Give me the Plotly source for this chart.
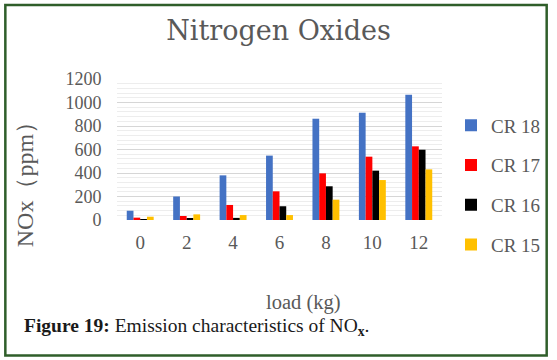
import plotly.graph_objects as go

loads = ["0", "2", "4", "6", "8", "10", "12"]
cr18 = [79, 200, 380, 548, 862, 913, 1066]
cr17 = [20, 34, 128, 244, 397, 539, 627]
cr16 = [3, 14, 18, 117, 287, 420, 598]
cr15 = [28, 48, 42, 42, 173, 340, 431]
series_names = ["CR 18", "CR 17", "CR 16", "CR 15"]
series_values = [cr18, cr17, cr16, cr15]
series_colors = ["#4472C4", "#FF0000", "#000000", "#FFC000"]
y_ticks = [0, 200, 400, 600, 800, 1000, 1200]

SERIF = "Liberation Serif, Times New Roman, serif"
GRAY = "#595959"

W, H = 557, 360
ML, MR, MT, MB = 117, 114, 79, 140
PW, PH = W - ML - MR, H - MT - MB


def px(x):
    return (x - ML) / PW


def py(y):
    return (H - MB - y) / PH


fig = go.Figure()
for name, vals, col in zip(series_names, series_values, series_colors):
    fig.add_trace(go.Bar(x=loads, y=vals, name=name, marker_color=col,
                         marker_line_width=0, legendgroup=name))

fig.update_layout(
    width=W, height=H,
    margin=dict(l=ML, r=MR, t=MT, b=MB),
    paper_bgcolor="white", plot_bgcolor="white",
    barmode="group", bargap=0.42, bargroupgap=0,
    title=dict(text="Nitrogen Oxides", x=0.5, xref="container", xanchor="center",
               y=1 - 31 / H, yref="container", yanchor="middle",
               font=dict(family="DejaVu Serif, serif", size=27, color=GRAY)),
    legend=dict(x=px(451), xanchor="left", y=py(185), yanchor="middle",
                maxheight=320,
                font=dict(family=SERIF, size=19, color=GRAY),
                tracegroupgap=12, bgcolor="rgba(0,0,0,0)"),
    showlegend=True,
    xaxis=dict(type="category", showgrid=False, showline=False, zeroline=False,
               ticks="outside", ticklen=5, tickcolor="rgba(0,0,0,0)",
               tickfont=dict(family=SERIF, size=19, color=GRAY)),
    yaxis=dict(range=[0, 1200], tickvals=y_ticks, showline=False, zeroline=False,
               gridcolor="#d6d6d6", gridwidth=1,
               minor=dict(dtick=40, showgrid=True, gridcolor="#ededed", gridwidth=1),
               ticks="outside", ticklen=11, tickcolor="rgba(0,0,0,0)",
               tickfont=dict(family=SERIF, size=18, color=GRAY)),
)

fig.add_annotation(text="NOx（ppm）", textangle=-90, xref="paper", yref="paper",
                   x=px(25), y=py(179),
                   xanchor="center", yanchor="middle", showarrow=False,
                   font=dict(family=SERIF, size=24, color=GRAY))
fig.add_annotation(text="load (kg)", xref="paper", yref="paper",
                   x=px(304), y=py(302),
                   xanchor="center", yanchor="middle", showarrow=False,
                   font=dict(family=SERIF, size=20.5, color=GRAY))
fig.add_annotation(text="<b>Figure 19:</b> Emission characteristics of NO<sub><b>x</b></sub>.",
                   xref="paper", yref="paper", x=px(22), y=py(327),
                   xanchor="left", yanchor="middle", showarrow=False,
                   font=dict(family=SERIF, size=19.5, color="#1a1a1a"))

fig.add_shape(type="rect", xref="paper", yref="paper",
              x0=px(5), x1=px(548), y0=py(355.5), y1=py(5),
              line=dict(color="#2f5e2a", width=2.5), fillcolor="rgba(0,0,0,0)")

fig.write_html("out.html",
               config={"displayModeBar": False},
               post_script="document.body.style.margin='0';"
                           "document.body.style.overflow='hidden';")
